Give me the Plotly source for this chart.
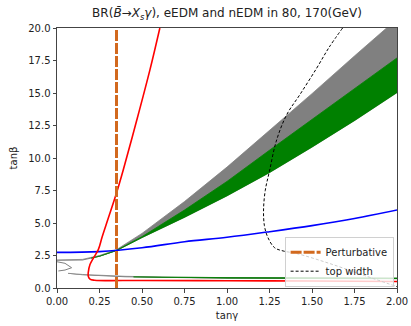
import plotly.graph_objects as go

# ---- data ----
band_gamma = [0.0, 0.15, 0.25, 0.35, 0.5, 0.75, 1.0, 1.25, 1.5, 1.75, 2.0]
gray_upper = [2.16, 2.2, 2.5, 2.95, 4.2, 6.65, 9.3, 12.1, 14.95, 17.85, 20.7]
gray_lower = [2.1, 2.12, 2.4, 2.85, 3.85, 5.4, 7.05, 8.85, 10.8, 12.85, 15.0]

green_gamma = [0.2, 0.25, 0.35, 0.5, 0.75, 1.0, 1.25, 1.5, 1.75, 2.0]
green_upper = [2.3, 2.45, 2.9, 3.95, 6.0, 8.2, 10.6, 12.95, 15.3, 17.7]
green_lower = [2.28, 2.4, 2.85, 3.85, 5.4, 7.05, 8.85, 10.8, 12.85, 15.0]

low_gamma = [0.065, 0.15, 0.4, 0.7, 1.0, 1.5, 2.0]
low_gray_upper = [1.13, 1.04, 0.9, 0.82, 0.8, 0.78, 0.76]
low_gray_lower = [1.1, 0.99, 0.83, 0.75, 0.72, 0.7, 0.68]

low_green_gamma = [0.45, 0.7, 1.0, 1.5, 2.0]
low_green_upper = [0.86, 0.82, 0.8, 0.78, 0.76]
low_green_lower = [0.82, 0.77, 0.74, 0.72, 0.7]

loop_gamma = [0.0, 0.047, 0.086, 0.047, 0.008]
loop_beta = [2.02, 1.9, 1.56, 1.38, 1.31]

red_gamma = [0.605, 0.547, 0.469, 0.39, 0.35, 0.30, 0.265, 0.243, 0.214, 0.194,
             0.184, 0.184, 0.194, 0.22, 0.5, 1.0, 1.5, 2.0]
red_beta = [20.0, 16.8, 12.9, 9.1, 7.3, 5.3, 3.9, 2.95, 2.3, 1.8,
            1.2, 0.9, 0.68, 0.6, 0.58, 0.56, 0.54, 0.5]

blue_gamma = [0.0, 0.25, 0.5, 0.75, 1.0, 1.25, 1.5, 1.75, 2.0]
blue_beta = [2.74, 2.8, 3.1, 3.56, 3.9, 4.33, 4.8, 5.35, 6.0]

pert_gamma = [0.35, 0.35]
pert_beta = [0.0, 20.0]

top_gamma = [1.68, 1.60, 1.527, 1.43, 1.35, 1.29, 1.25, 1.225, 1.215, 1.22,
             1.24, 1.28, 1.33, 1.41, 1.6, 1.8, 2.0]
top_beta = [20.0, 18.5, 16.9, 14.9, 13.3, 11.3, 9.0, 7.5, 6.0, 4.8,
            3.9, 3.1, 2.85, 2.65, 1.9, 1.0, 0.1]

x_ticks = [0.0, 0.25, 0.5, 0.75, 1.0, 1.25, 1.5, 1.75, 2.0]
y_ticks = [0.0, 2.5, 5.0, 7.5, 10.0, 12.5, 15.0, 17.5, 20.0]

GRAY = "#808080"
GREEN = "#008000"

fig = go.Figure()


def band(x, lo, hi, color):
    fig.add_trace(go.Scatter(x=x, y=lo, mode="lines", line=dict(width=0, color=color),
                             showlegend=False, hoverinfo="skip"))
    fig.add_trace(go.Scatter(x=x, y=hi, mode="lines", line=dict(width=0.8, color=color),
                             fill="tonexty", fillcolor=color, showlegend=False,
                             hoverinfo="skip"))


band(band_gamma, gray_lower, gray_upper, GRAY)
band(green_gamma, green_lower, green_upper, GREEN)
band(low_gamma, low_gray_lower, low_gray_upper, GRAY)
band(low_green_gamma, low_green_lower, low_green_upper, GREEN)

fig.add_trace(go.Scatter(x=loop_gamma, y=loop_beta, mode="lines",
                         line=dict(color=GRAY, width=1), showlegend=False))

fig.add_trace(go.Scatter(x=blue_gamma, y=blue_beta, mode="lines", line_shape="spline",
                         line=dict(color="blue", width=1.6), showlegend=False))
fig.add_trace(go.Scatter(x=red_gamma, y=red_beta, mode="lines", line_shape="spline",
                         line=dict(color="red", width=1.6), showlegend=False))
fig.add_trace(go.Scatter(x=pert_gamma, y=pert_beta, mode="lines", name="Perturbative",
                         line=dict(color="#D2691E", width=3, dash="11px,2px")))
fig.add_trace(go.Scatter(x=top_gamma, y=top_beta, mode="lines", name="top width",
                         line_shape="spline",
                         line=dict(color="black", width=1, dash="3px,2px")))

FONT = "DejaVu Sans"
fig.update_layout(
    width=411, height=326,
    margin=dict(l=57, r=14, t=28, b=38),
    paper_bgcolor="white", plot_bgcolor="white",
    font=dict(family=FONT, size=10, color="#222"),
    title=dict(text="BR(<i>B̄</i>→<i>X<sub>s</sub>γ</i>), eEDM and nEDM in 80, 170(GeV)",
               x=(57 + 170) / 411, xanchor="center", y=0.96, yanchor="middle",
               automargin=False,
               font=dict(family=FONT, size=12, color="#222")),
    legend=dict(x=0.99, y=0.005, xanchor="right", yanchor="bottom",
                traceorder="normal",
                bgcolor="rgba(255,255,255,0.8)", bordercolor="#d0d0d0", borderwidth=1,
                font=dict(family=FONT, size=10, color="#222"),
                tracegroupgap=0, itemwidth=30),
)
fig.update_xaxes(range=[0, 2], tickvals=x_ticks, ticktext=[f"{v:.2f}" for v in x_ticks],
                 automargin=False,
                 showgrid=False, zeroline=False, showline=True, mirror=True,
                 linecolor="#444", linewidth=1, ticks="outside", ticklen=3.5,
                 tickcolor="#444", title=dict(text="tanγ", standoff=6,
                                                font=dict(family=FONT, size=10)))
fig.update_yaxes(range=[0, 20], tickvals=y_ticks, ticktext=[f"{v:.1f}" for v in y_ticks],
                 automargin=False,
                 showgrid=False, zeroline=False, showline=True, mirror=True,
                 linecolor="#444", linewidth=1, ticks="outside", ticklen=3.5,
                 tickcolor="#444", title=dict(text="tanβ", standoff=8,
                                                font=dict(family=FONT, size=10)))

fig.write_html("out.html", config={"displayModeBar": False},
               post_script="document.body.style.margin='0';document.body.style.overflow='hidden';")
